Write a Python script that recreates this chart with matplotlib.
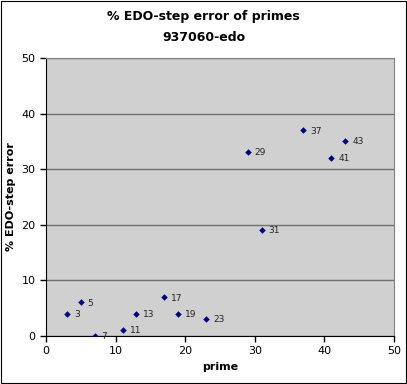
import matplotlib
matplotlib.use('Agg')
import matplotlib.pyplot as plt

# data
primes = [3, 5, 7, 11, 13, 17, 19, 23, 29, 31, 37, 41, 43]
errors = [4.0, 6.1, 0.0, 1.1, 4.0, 7.0, 4.0, 3.1, 33.1, 19.1, 37.0, 32.1, 35.1]
labels = [str(p) for p in primes]

fig = plt.figure(figsize=(4.07, 3.84), dpi=100)
fig.patch.set_facecolor('white')
ax = fig.add_axes([0.113, 0.125, 0.855, 0.724])
ax.set_facecolor('#d0d0d0')

ax.scatter(primes, errors, marker='D', s=11, color='#000080', linewidths=0, zorder=3)
for x, y, lab in zip(primes, errors, labels):
    ax.annotate(lab, (x, y), xytext=(5, -2.5), textcoords='offset points',
                fontsize=6.5, color='#222222')

ax.set_xlim(0, 50)
ax.set_ylim(0, 50)
ax.set_xticks(range(0, 51, 10))
ax.set_yticks(range(0, 51, 10))
ax.tick_params(labelsize=8, direction='out', length=4, width=1)
ax.grid(axis='y', color='#707070', linewidth=1)
ax.set_axisbelow(True)
for s in ['top', 'right']:
    ax.spines[s].set_color('#808080')
for s in ['left', 'bottom']:
    ax.spines[s].set_color('black')

ax.set_xlabel('prime', fontsize=8, fontweight='bold', labelpad=4)
ax.set_ylabel('% EDO-step error', fontsize=8, fontweight='bold', labelpad=4)
fig.text(0.5, 0.958, '% EDO-step error of primes', ha='center', va='center',
         fontsize=9, fontweight='bold')
fig.text(0.5, 0.903, '937060-edo', ha='center', va='center',
         fontsize=9, fontweight='bold')

# thin frame around the whole chart
fig.add_artist(plt.Rectangle((0.002, 0.003), 0.995, 0.994, transform=fig.transFigure,
                             fill=False, edgecolor='black', linewidth=0.8))

fig.savefig('out.png', dpi=100)
